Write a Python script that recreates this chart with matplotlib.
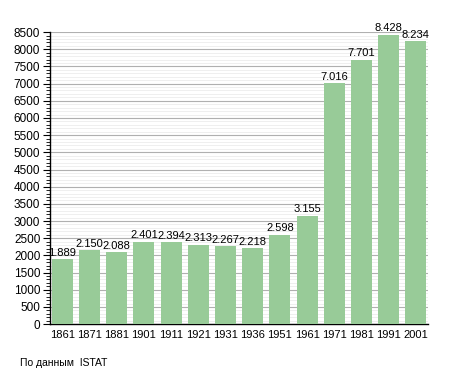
import matplotlib.pyplot as plt
import numpy as np
from matplotlib.ticker import MultipleLocator

years = ['1861', '1871', '1881', '1901', '1911', '1921', '1931', '1936',
         '1951', '1961', '1971', '1981', '1991', '2001']
population = [1889, 2150, 2088, 2401, 2394, 2313, 2267, 2218,
              2598, 3155, 7016, 7701, 8428, 8234]

plt.rcParams['font.family'] = ['Liberation Sans', 'DejaVu Sans']

fig = plt.figure(figsize=(4.55, 3.73), dpi=100)
ax = fig.add_axes([0.110, 0.131, 0.831, 0.783])

x = np.arange(len(years))
ax.bar(x, population, width=0.77, color='#98cb98', zorder=3)

# value labels with dot as thousands separator
for xi, v in zip(x, population):
    label = f"{v:,}".replace(',', '.')
    ax.text(xi, v + 40, label, ha='center', va='bottom', fontsize=8, zorder=4)

ax.set_xlim(-0.45, len(years) - 0.55)
ax.set_ylim(0, 8500)
ax.yaxis.set_major_locator(MultipleLocator(500))
ax.yaxis.set_minor_locator(MultipleLocator(100))
ax.grid(True, which='major', axis='y', color='#b0b0b0', linewidth=0.8, zorder=1)
ax.grid(True, which='minor', axis='y', color='#ececec', linewidth=0.6, zorder=0)

ax.set_xticks(x)
ax.set_xticklabels(years, fontsize=8)
ax.tick_params(axis='x', length=0, pad=4)
ax.tick_params(axis='y', which='major', length=5, width=0.8, labelsize=8.5, pad=2)
ax.tick_params(axis='y', which='minor', length=3, width=0.6)

for side in ['top', 'right']:
    ax.spines[side].set_visible(False)
ax.spines['left'].set_linewidth(1.0)
ax.spines['bottom'].set_linewidth(1.0)

fig.text(0.044, 0.02, 'По данным  ISTAT', fontsize=7.5)

fig.savefig('out.png', dpi=100)
